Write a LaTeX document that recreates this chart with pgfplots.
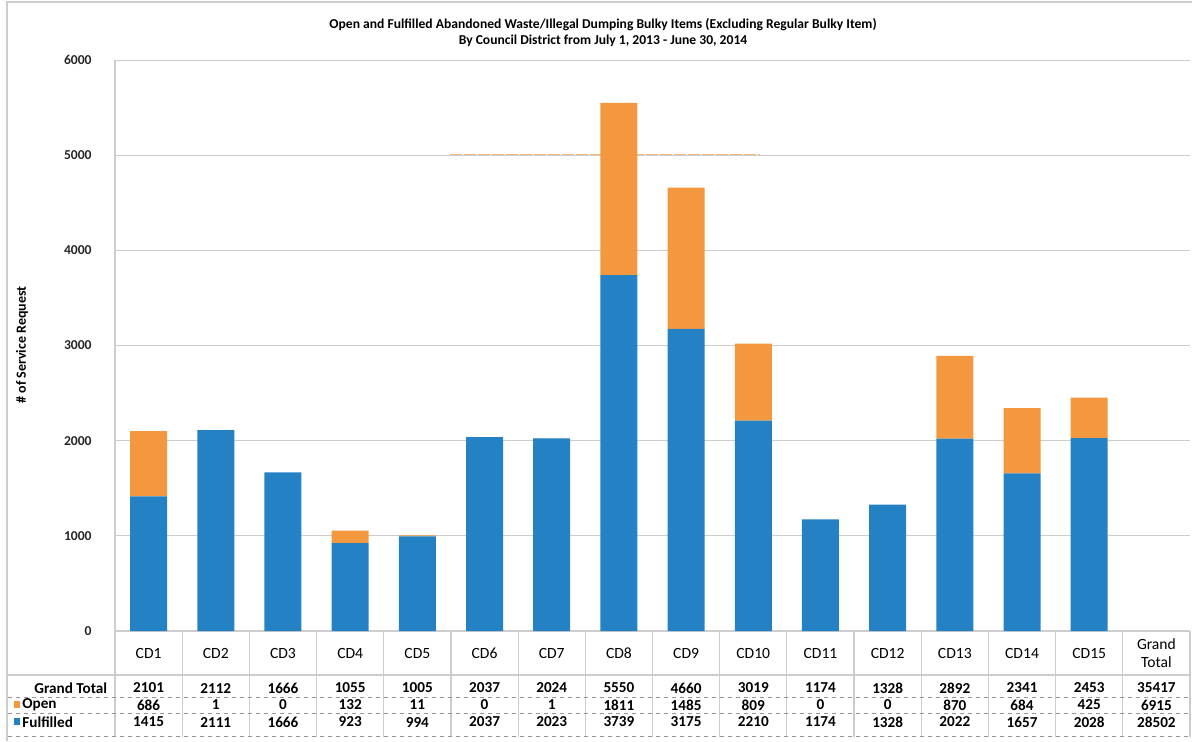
\documentclass[border=0pt]{standalone}
\usepackage{pgfplots}
\pgfplotsset{compat=1.18}
\usepackage{pgfplotstable}
\usepackage{fontspec}
\setmainfont{Carlito}
\definecolor{fulblue}{RGB}{36,129,196}
\definecolor{openorg}{RGB}{244,152,64}
\definecolor{gridc}{RGB}{205,205,205}
\definecolor{tabline}{RGB}{150,150,150}

\pgfplotstableread{
x ful open
0 1415 686
1 2111 1
2 1666 0
3 923 132
4 994 11
5 2037 0
6 2023 1
7 3739 1811
8 3175 1485
9 2210 809
10 1174 0
11 1328 0
12 2022 870
13 1657 684
14 2028 425
}\data

\begin{document}
\begin{tikzpicture}
\path[use as bounding box] (0pt,0pt) rectangle (596pt,-370.5pt);
\begin{scope}[x=0.5pt, y=-0.5pt]
  % faint orange line at 5000 (behind bars)
  \draw[openorg!70, line width=0.6pt, dash pattern=on 6pt off 1pt] (450,155) -- (760,155);
\end{scope}
\begin{axis}[
  at={(57.5pt,-315.5pt)}, anchor=south west,
  scale only axis, width=537.5pt, height=285.5pt,
  xmin=-0.5, xmax=15.5, ymin=0, ymax=6000,
  ybar stacked, bar width=18.5pt,
  xtick=\empty,
  ytick={0,1000,...,6000},
  ymajorgrids, grid style={gridc, line width=0.5pt},
  axis x line*=bottom, axis y line*=left,
  axis line style={gridc, line width=0.6pt},
  major tick length=0pt,
  yticklabel style={font=\bfseries\fontsize{6.8}{7}\selectfont, text=black!85, inner sep=0pt, xshift=-11.5pt},
  /pgf/number format/assume math mode=true,
  /pgf/number format/1000 sep={},
  clip=false,
]
\addplot[fill=fulblue, draw=none] table[x=x, y=ful] {\data};
\addplot[fill=openorg, draw=none] table[x=x, y=open] {\data};
\end{axis}
\begin{scope}[x=0.5pt, y=-0.5pt]
  % frame
  \draw[gridc, line width=0.6pt] (7,741) -- (7,2) -- (1192,2);
  % title
  \node[font=\bfseries\fontsize{6.8}{8}\selectfont] at (603,25) {Open and Fulfilled Abandoned Waste/Illegal Dumping Bulky Items (Excluding Regular Bulky Item)};
  \node[font=\bfseries\fontsize{6.8}{8}\selectfont] at (603,41) {By Council District from July 1, 2013 - June 30, 2014};
  % y label
  \node[rotate=90, font=\bfseries\fontsize{7}{8}\selectfont] at (22,345) {\# of Service Request};
  % table vertical lines
  \foreach \k in {0,...,16} {
    \draw[gridc, line width=0.6pt] ({115+67.1875*\k},631) -- ({115+67.1875*\k},737);
  }
  % horizontal lines
  \draw[gridc, line width=0.6pt] (8,675) -- (1190,675);
  \foreach \yy in {697,713,736} {
    \draw[tabline, line width=0.4pt, dash pattern=on 2pt off 2pt] (8,\yy) -- (1190,\yy);
  }
  % header
  \foreach \lab [count=\i from 0] in {CD1,CD2,CD3,CD4,CD5,CD6,CD7,CD8,CD9,CD10,CD11,CD12,CD13,CD14,CD15} {
    \node[font=\fontsize{7.8}{8}\selectfont] at ({115+67.1875*(\i+0.5)},653) {\lab};
  }
  \node[font=\fontsize{7.8}{9}\selectfont, align=center] at ({115+67.1875*15.5},653) {Grand\\Total};
  % row labels
  \node[font=\bfseries\fontsize{7.6}{8}\selectfont, anchor=west, inner sep=0pt] at (34,688) {Grand Total};
  \fill[openorg] (14,701) rectangle (20,708);
  \node[font=\bfseries\fontsize{7.6}{8}\selectfont, anchor=west, inner sep=0pt] at (22,705) {Open};
  \fill[fulblue] (14,718) rectangle (20,725);
  \node[font=\bfseries\fontsize{7.6}{8}\selectfont, anchor=west, inner sep=0pt] at (22,722) {Fulfilled};
  % values
  \foreach \v [count=\i from 0] in {2101,2112,1666,1055,1005,2037,2024,5550,4660,3019,1174,1328,2892,2341,2453,35417} {
    \node[font=\bfseries\fontsize{7.6}{8}\selectfont] at ({115+67.1875*(\i+0.5)},688) {\v};
  }
  \foreach \v [count=\i from 0] in {686,1,0,132,11,0,1,1811,1485,809,0,0,870,684,425,6915} {
    \node[font=\bfseries\fontsize{7.6}{8}\selectfont] at ({115+67.1875*(\i+0.5)},705) {\v};
  }
  \foreach \v [count=\i from 0] in {1415,2111,1666,923,994,2037,2023,3739,3175,2210,1174,1328,2022,1657,2028,28502} {
    \node[font=\bfseries\fontsize{7.6}{8}\selectfont] at ({115+67.1875*(\i+0.5)},722) {\v};
  }
\end{scope}
\end{tikzpicture}
\end{document}
